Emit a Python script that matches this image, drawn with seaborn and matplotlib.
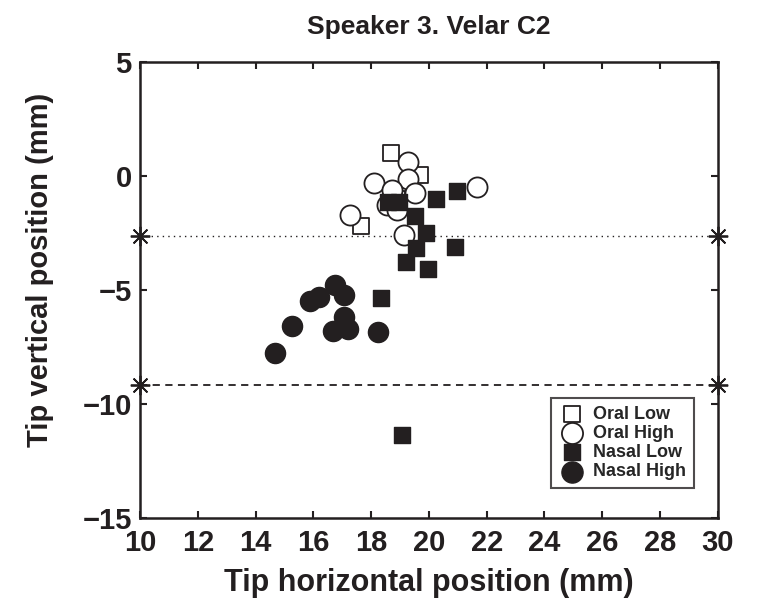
import numpy as np
import pandas as pd
import matplotlib
matplotlib.use("Agg")
import matplotlib.pyplot as plt
import seaborn as sns

# Data (mm)
oral_low_x = [18.7, 19.7, 17.65, 18.7, 18.9]
oral_low_y = [1.0, 0.05, -2.2, -1.1, -1.0]

oral_high_x = [19.27, 18.09, 19.27, 18.72, 19.53, 21.67, 17.28, 18.55, 18.9, 19.13]
oral_high_y = [0.6, -0.29, -0.15, -0.61, -0.76, -0.5, -1.71, -1.27, -1.49, -2.59]

nasal_low_x = [20.26, 20.98, 19.53, 19.91, 20.92, 19.57, 19.19, 19.96, 18.6, 18.95, 18.34, 19.08]
nasal_low_y = [-1.02, -0.66, -1.75, -2.49, -3.1, -3.17, -3.76, -4.09, -1.13, -1.13, -5.34, -11.36]

nasal_high_x = [14.68, 15.26, 15.89, 16.18, 16.76, 17.07, 17.05, 16.68, 17.19, 18.23]
nasal_high_y = [-7.75, -6.58, -5.47, -5.32, -4.78, -5.22, -6.17, -6.78, -6.72, -6.84]

dotted_y = -2.63
dashed_y = -9.17

groups = ["Oral Low", "Oral High", "Nasal Low", "Nasal High"]

df = pd.concat([
    pd.DataFrame({"x": oral_low_x, "y": oral_low_y, "group": "Oral Low"}),
    pd.DataFrame({"x": oral_high_x, "y": oral_high_y, "group": "Oral High"}),
    pd.DataFrame({"x": nasal_low_x, "y": nasal_low_y, "group": "Nasal Low"}),
    pd.DataFrame({"x": nasal_high_x, "y": nasal_high_y, "group": "Nasal High"}),
], ignore_index=True)

sns.set_style("ticks")
plt.rcParams["font.family"] = ["Liberation Sans", "DejaVu Sans"]
plt.rcParams["font.weight"] = "bold"

fig = plt.figure(figsize=(7.58, 6.06), dpi=100)
ax = fig.add_axes([0.1847, 0.1452, 0.7623, 0.7525])

ink = "#231f20"
styles = {
    "Oral Low": dict(marker="s", s=130, facecolor="white", edgecolor=ink, linewidth=1.3),
    "Oral High": dict(marker="o", s=210, facecolor="white", edgecolor=ink, linewidth=1.3),
    "Nasal Low": dict(marker="s", s=130, facecolor=ink, edgecolor=ink, linewidth=1.0),
    "Nasal High": dict(marker="o", s=210, facecolor=ink, edgecolor=ink, linewidth=1.0),
}

for g in groups:
    sub = df[df["group"] == g]
    st = styles[g]
    sns.scatterplot(data=sub, x="x", y="y", ax=ax, marker=st["marker"], s=st["s"],
                    facecolor=st["facecolor"], edgecolor=st["edgecolor"],
                    linewidth=st["linewidth"], label=g, zorder=3)

# reference lines with asterisk end markers
ast = (8, 2, 0)
ax.plot([10, 30], [dotted_y, dotted_y], linestyle=(0, (1, 3)), color=ink, lw=1.0,
        marker=ast, markersize=14, markeredgewidth=1.3, clip_on=False, zorder=2)
ax.plot([10, 30], [dashed_y, dashed_y], linestyle=(0, (4, 3)), color=ink, lw=1.3,
        marker=ast, markersize=14, markeredgewidth=1.3, clip_on=False, zorder=2)

ax.set_xlim(10, 30)
ax.set_ylim(-15, 5)
ax.set_xticks(np.arange(10, 31, 2))
ax.set_yticks([-15, -10, -5, 0, 5])
ax.set_yticklabels(["\u221215", "\u221210", "\u22125", "0", "5"])
ax.tick_params(direction="in", length=5, width=1.5, top=True, right=True,
               labelsize=21, colors=ink)
ax.tick_params(axis="x", pad=8)
ax.tick_params(axis="y", pad=6)
for lab in ax.get_xticklabels() + ax.get_yticklabels():
    lab.set_fontweight("bold")
for sp in ax.spines.values():
    sp.set_visible(True)
    sp.set_linewidth(1.8)
    sp.set_color(ink)

ax.set_xlabel("Tip horizontal position (mm)", fontsize=22, fontweight="bold", color=ink, labelpad=8)
ax.set_ylabel("Tip vertical position (mm)", fontsize=21, fontweight="bold", color=ink)
ax.yaxis.set_label_coords(-0.148, 0.545)
ax.set_title("Speaker 3. Velar C2", fontsize=19, fontweight="bold", color=ink, pad=20)

leg = ax.legend(loc="lower right", bbox_to_anchor=(0.975, 0.045), frameon=True, fancybox=False,
                prop={"size": 13, "weight": "bold"}, handletextpad=0.4, borderpad=0.45,
                labelspacing=0.12, handlelength=1.5, markerscale=1.05)
leg.get_frame().set_edgecolor(ink)
leg.get_frame().set_linewidth(1.5)

fig.savefig("out.png", dpi=100)
